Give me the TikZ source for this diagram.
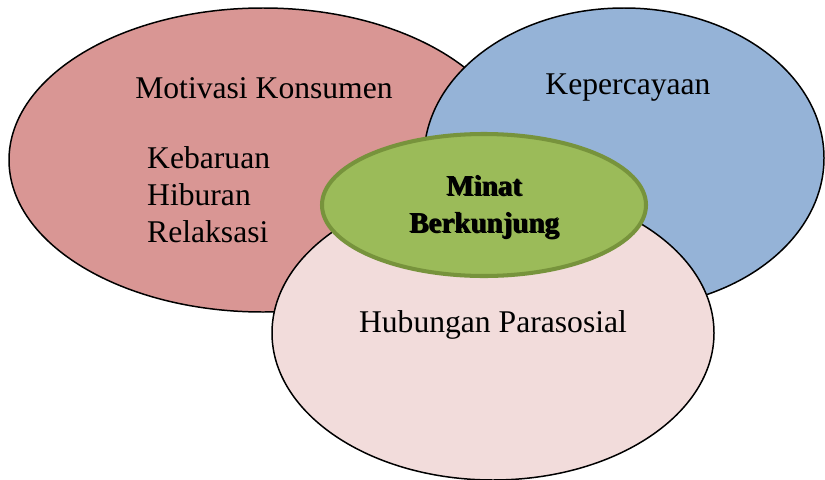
\documentclass[tikz,border=0pt]{standalone}
\usepackage{fontspec}
\setmainfont{Liberation Serif}
\usepackage{tikz}
\usetikzlibrary{positioning}

\definecolor{motivred}{HTML}{D99694}
\definecolor{percayablue}{HTML}{95B3D7}
\definecolor{relasipink}{HTML}{F2DCDB}
\definecolor{minatgreen}{HTML}{9BBB59}
\definecolor{minatedge}{HTML}{77933C}

% heavy text with a small shadow
\newcommand{\tebal}[1]{\rlap{\raisebox{-0.5pt}{\kern0.7pt#1}}#1}

\tikzset{
  lingkar/.style={draw=black,line width=0.85pt},
  judul/.style={font=\fontsize{18}{21}\selectfont},
  butir/.style={font=\fontsize{18}{21}\selectfont,anchor=west},
  inti/.style={font=\fontsize{16.5}{19}\selectfont\bfseries}
}

\begin{document}
\begin{tikzpicture}[x=0.02cm,y=-0.02cm]
            \useasboundingbox (0,0) rectangle (825,480);
            % the three factors
            \filldraw[lingkar,fill=motivred] (263,160) ellipse (254 and 152);
            \filldraw[lingkar,fill=percayablue] (624,158) ellipse (200 and 150);
            \filldraw[lingkar,fill=relasipink] (493,333) ellipse (221 and 147);
            % the centre
            \filldraw[line width=2.3pt,draw=minatedge,fill=minatgreen] (484,205) ellipse (162 and 71);
            \node[judul] (motivasi) at (264,88) {Motivasi Konsumen};
            \node[judul] (percaya) at (628,88) {Kepercayaan};
            \node[judul] (parasosial) at (493,325) {Hubungan Parasosial};
            \node[butir] (kebaruan) at (141,158) {Kebaruan};
            \node[butir] (hiburan) at (141,195) {Hiburan};
            \node[butir] (relaksasi) at (141,232) {Relaksasi};
            \node[inti] (minat) at (484,186) {\tebal{Minat}};
            \node[inti] (berkunjung) at (484,226) {\tebal{Berkunjung}};
          \end{tikzpicture}
\end{document}
